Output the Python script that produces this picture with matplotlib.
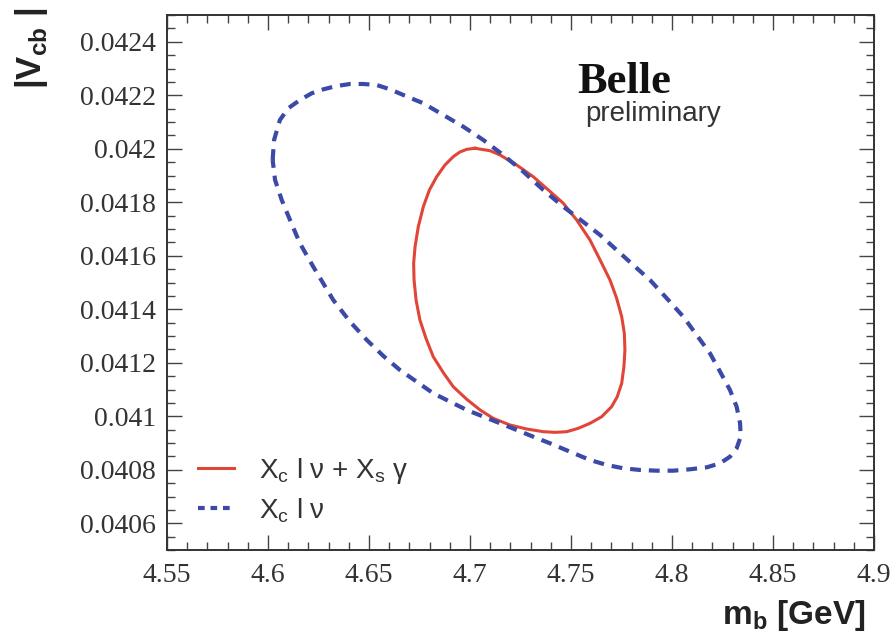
import matplotlib
matplotlib.use("Agg")
import matplotlib.pyplot as plt
from matplotlib.ticker import MultipleLocator, FixedLocator, FixedFormatter
from matplotlib.lines import Line2D

# ---- data ----
red_x = [4.7025, 4.7099, 4.7149, 4.7231, 4.7313, 4.7388, 4.7462, 4.7528, 4.7594, 4.7644,
         4.7693, 4.7726, 4.7751, 4.7764, 4.7767, 4.7762, 4.7751, 4.7729, 4.7701, 4.7652,
         4.7594, 4.7536, 4.7479, 4.7421, 4.7363, 4.7281, 4.7198, 4.7115, 4.7050, 4.6984,
         4.6917, 4.6868, 4.6818, 4.6782, 4.6752, 4.6733, 4.6723, 4.6721, 4.6728, 4.6744,
         4.6769, 4.6799, 4.6835, 4.6876, 4.6917, 4.6950, 4.6984, 4.7025]
red_y = [0.0420017, 0.0419927, 0.0419766, 0.0419393, 0.0418955, 0.0418458, 0.0417961,
         0.0417337, 0.0416589, 0.0415841, 0.0415094, 0.0414409, 0.0413722, 0.0413101,
         0.0412477, 0.0411853, 0.0411232, 0.0410731, 0.0410357, 0.0409983, 0.0409736,
         0.0409549, 0.0409423, 0.0409398, 0.0409423, 0.0409523, 0.0409673, 0.0409923,
         0.0410234, 0.0410633, 0.0411105, 0.0411628, 0.0412226, 0.0412914, 0.0413598,
         0.0414346, 0.0415094, 0.0415718, 0.0416338, 0.0417086, 0.0417834, 0.0418458,
         0.0418955, 0.0419393, 0.0419703, 0.0419879, 0.0419979, 0.0420017]

blue_x = [4.6023, 4.6030, 4.6059, 4.6100, 4.6158, 4.6216, 4.6274, 4.6340, 4.6406, 4.6472,
          4.6538, 4.6604, 4.6670, 4.6769, 4.6868, 4.6967, 4.7066, 4.7165, 4.7264, 4.7363,
          4.7462, 4.7561, 4.7644, 4.7726, 4.7808, 4.7891, 4.7974, 4.8056, 4.8122, 4.8188,
          4.8238, 4.8287, 4.8320, 4.8337, 4.8340, 4.8320, 4.8287, 4.8238, 4.8172, 4.8089,
          4.8006, 4.7924, 4.7842, 4.7759, 4.7677, 4.7594, 4.7495, 4.7396, 4.7313, 4.7149,
          4.6984, 4.6818, 4.6653, 4.6571, 4.6489, 4.6406, 4.6323, 4.6224, 4.6158, 4.6109,
          4.6068, 4.6035, 4.6023]
blue_y = [0.0419580, 0.0420327, 0.0421075, 0.0421512, 0.0421822, 0.0422073, 0.0422222,
          0.0422346, 0.0422421, 0.0422421, 0.0422383, 0.0422222, 0.0422009, 0.0421699,
          0.0421262, 0.0420824, 0.0420327, 0.0419766, 0.0419142, 0.0418458, 0.0417834,
          0.0417262, 0.0416776, 0.0416215, 0.0415654, 0.0415094, 0.0414409, 0.0413722,
          0.0413037, 0.0412353, 0.0411666, 0.0410981, 0.0410357, 0.0409736, 0.0409236,
          0.0408802, 0.0408488, 0.0408241, 0.0408091, 0.0408017, 0.0407965, 0.0407965,
          0.0407991, 0.0408055, 0.0408178, 0.0408365, 0.0408675, 0.0408989, 0.0409236,
          0.0409736, 0.0410234, 0.0410858, 0.0411729, 0.0412253, 0.0412851, 0.0413535,
          0.0414346, 0.0415591, 0.0416465, 0.0417337, 0.0418084, 0.0418832, 0.0419580]

x_ticks = [4.55, 4.6, 4.65, 4.7, 4.75, 4.8, 4.85, 4.9]
x_ticklabels = ["4.55", "4.6", "4.65", "4.7", "4.75", "4.8", "4.85", "4.9"]
y_ticks = [0.0406, 0.0408, 0.0410, 0.0412, 0.0414, 0.0416, 0.0418, 0.0420, 0.0422, 0.0424]
y_ticklabels = ["0.0406", "0.0408", "0.041", "0.0412", "0.0414", "0.0416", "0.0418",
                "0.042", "0.0422", "0.0424"]

label_red = "X$_\\mathregular{c}$ l ν + X$_\\mathregular{s}$ γ"
label_blue = "X$_\\mathregular{c}$ l ν"

RED = "#e04538"
BLUE = "#3b4aa6"

fig = plt.figure(figsize=(8.93, 6.37), dpi=100)
ax = fig.add_axes([167/893, 87/637, (874-167)/893, (550-15)/637])

ax.plot(red_x, red_y, color=RED, lw=2.2, solid_joinstyle="round")
ax.plot(blue_x, blue_y, color=BLUE, lw=3.0, linestyle=(0, (2.6, 1.9)))

ax.set_xlim(4.55, 4.9)
ax.set_ylim(0.0405, 0.0425)

ax.xaxis.set_major_locator(FixedLocator(x_ticks))
ax.xaxis.set_major_formatter(FixedFormatter(x_ticklabels))
ax.yaxis.set_major_locator(FixedLocator(y_ticks))
ax.yaxis.set_major_formatter(FixedFormatter(y_ticklabels))
ax.xaxis.set_minor_locator(MultipleLocator(0.01))
ax.yaxis.set_minor_locator(MultipleLocator(0.00005))

ax.tick_params(which="both", direction="in", top=True, right=True, width=1.0, color="#444444")
ax.tick_params(which="major", length=11)
ax.tick_params(which="minor", length=6)
ax.tick_params(axis="both", which="major", labelsize=20, pad=8, labelcolor="#333333")
for lab in ax.get_xticklabels() + ax.get_yticklabels():
    lab.set_family("Liberation Serif")
ax.tick_params(axis="x", which="major", pad=9)
for sp in ax.spines.values():
    sp.set_linewidth(1.4)
    sp.set_color("#333333")

# axis titles
fig.text(32/893, 1 - 8/637, "|V$_\\mathregular{cb}$ |", rotation=90, ha="center", va="top",
         fontsize=25, fontweight="bold", family="Liberation Sans", color="#222222")
fig.text(866/893, 1 - 624/637, "m$_\\mathregular{b}$ [GeV]", ha="right", va="baseline",
         fontsize=24, fontweight="bold", family="Liberation Sans", color="#222222")

# Belle preliminary
fig.text(577/893, 1 - 93/637, "Belle", ha="left", va="baseline", fontsize=32,
         fontweight="bold", family="Liberation Serif", color="#111111")
fig.text(585/893, 1 - 121/637, "preliminary", ha="left", va="baseline", fontsize=20,
         family="Liberation Sans", color="#333333")

handles = [Line2D([], [], color=RED, lw=2.2),
           Line2D([], [], color=BLUE, lw=3.0, linestyle=(0, (1.6, 1.4)))]
leg = ax.legend(handles, [label_red, label_blue], loc="upper left",
                bbox_to_anchor=(198/893, 1 - 456/637), bbox_transform=fig.transFigure,
                frameon=False, handlelength=1.3, handletextpad=0.9,
                labelspacing=0.35, borderpad=0, borderaxespad=0,
                prop={"family": "Liberation Sans", "size": 20})
for t in leg.get_texts():
    t.set_color("#333333")

fig.savefig("out.png", dpi=100)
